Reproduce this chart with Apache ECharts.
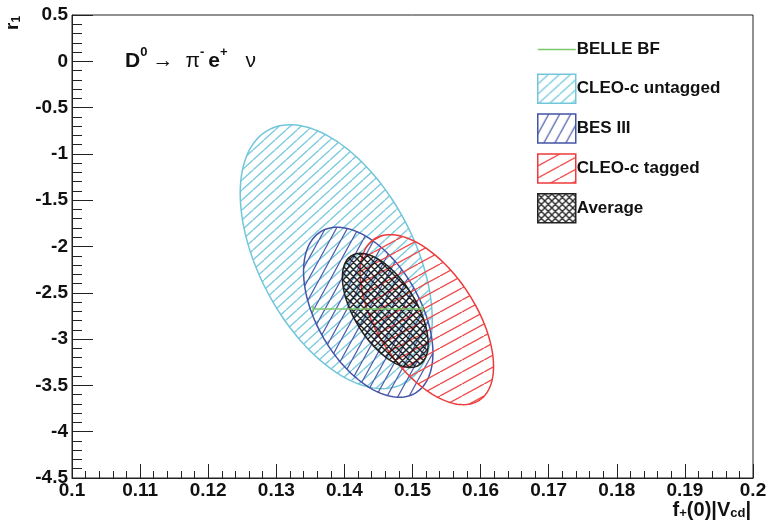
<!DOCTYPE html>
<html><head><meta charset="utf-8">
<script src="https://cdn.jsdelivr.net/npm/echarts@6/dist/echarts.min.js"></script>
<style>html,body{margin:0;padding:0;background:#fff}#c{width:772px;height:528px}</style>
</head><body><div id="c"></div>
<script>
// ---- data ----
const seriesNames = ['CLEO-c untagged', 'BES III', 'CLEO-c tagged', 'Average'];
const centerX = [0.1388, 0.1435, 0.1521, 0.1460];
const centerY = [-2.11, -2.71, -2.79, -2.69];
const halfWidthX = [0.0141, 0.0095, 0.0098, 0.0063];
const halfWidthY = [1.425, 0.918, 0.918, 0.616];
const correlation = [-0.48, -0.48, -0.55, -0.58];
const belleName = 'BELLE BF';
const belleX = [0.1354, 0.1515];
const belleY = [-2.675, -2.675];
const xTickLabels = ['0.1','0.11','0.12','0.13','0.14','0.15','0.16','0.17','0.18','0.19','0.2'];
const yTickLabels = ['-4.5','-4','-3.5','-3','-2.5','-2','-1.5','-1','-0.5','0','0.5'];

// ---- styles ----
const FONT = '"Liberation Sans", Arial, Helvetica, sans-serif';
const strokeColors = ['#72c6da', '#4454a6', '#ee3a3a', '#222222'];
const hatchColors = ['#7ccbdf', '#5060ac', '#f04a4a', '#111111'];
const hatchSpec = [
  {w: 11, h: 10, lw: 1.3},
  {w: 11, h: 20, lw: 1.3},
  {w: 22, h: 12, lw: 1.3},
  {cross: true, s: 7, lw: 1.4}
];

function makePattern(color, spec) {
  const c = document.createElement('canvas');
  const ctx = c.getContext('2d');
  if (spec.cross) {
    const s = spec.s;
    c.width = s; c.height = s;
    ctx.strokeStyle = color; ctx.lineWidth = spec.lw; ctx.globalAlpha = 0.9;
    ctx.beginPath();
    for (let i = -1; i <= 1; i++) {
      ctx.moveTo(i * s, s); ctx.lineTo(i * s + s, 0);
      ctx.moveTo(i * s, 0); ctx.lineTo(i * s + s, s);
    }
    ctx.stroke();
  } else {
    const W = spec.w, H = spec.h;
    c.width = W; c.height = H;
    ctx.strokeStyle = color; ctx.lineWidth = spec.lw;
    ctx.beginPath();
    for (let i = -1; i <= 1; i++) {
      ctx.moveTo(i * W, H); ctx.lineTo(i * W + W, 0);
    }
    ctx.stroke();
  }
  return {image: c, repeat: 'repeat'};
}
const patterns = hatchColors.map((col, i) => makePattern(col, hatchSpec[i]));

function ellipseRender(params, api) {
  const cx = api.value(0), cy = api.value(1), hx = api.value(2), hy = api.value(3), rho = api.value(4);
  const pts = [];
  const n = 160;
  const s = Math.sqrt(1 - rho * rho);
  for (let k = 0; k < n; k++) {
    const t = 2 * Math.PI * k / n;
    pts.push(api.coord([cx + hx * Math.cos(t), cy + hy * (rho * Math.cos(t) + s * Math.sin(t))]));
  }
  const i = params.seriesIndex - 1;
  return {
    type: 'polygon',
    shape: {points: pts},
    style: {fill: patterns[i], stroke: strokeColors[i], lineWidth: 1.5}
  };
}

const series = [{
  name: belleName,
  type: 'line',
  data: belleX.map((x, i) => [x, belleY[i]]),
  symbol: 'rect',
  symbolSize: [1.5, 6],
  showSymbol: true,
  lineStyle: {color: '#7dc86c', width: 1.5},
  itemStyle: {color: '#7dc86c'},
  z: 5
}];
seriesNames.forEach((name, i) => {
  series.push({
    name: name,
    type: 'custom',
    coordinateSystem: 'cartesian2d',
    renderItem: ellipseRender,
    encode: {x: 0, y: 1},
    data: [[centerX[i], centerY[i], halfWidthX[i], halfWidthY[i], correlation[i]]],
    itemStyle: {color: patterns[i], borderColor: strokeColors[i], borderWidth: 1.5},
    z: 2 + i,
    silent: true
  });
});

function lookup(labels, min, step) {
  return v => { const k = Math.round((v - min) / step); return labels[k] !== undefined ? labels[k] : ''; };
}

const lineIcon = 'path://M0,0 L0.01,0 L0,0.01 Z M38,29 L37.99,29 L38,28.99 Z M0,13.75 L38,13.75 L38,15.25 L0,15.25 Z';

const chart = echarts.init(document.getElementById('c'), null, {renderer: 'canvas'});
chart.setOption({
  animation: false,
  backgroundColor: '#fff',
  grid: {show: true, left: 72, right: 19, top: 15, bottom: 50, borderColor: '#222', borderWidth: 1,
         containLabel: false, outerBoundsMode: 'none'},
  xAxis: {
    type: 'value', min: 0.1, max: 0.2, interval: 0.01,
    axisLine: {onZero: false, lineStyle: {color: '#222', width: 1}},
    axisTick: {inside: true, length: 14, lineStyle: {color: '#222'}},
    minorTick: {show: true, splitNumber: 5, length: 7, lineStyle: {color: '#222'}},
    splitLine: {show: false}, minorSplitLine: {show: false},
    axisLabel: {formatter: lookup(xTickLabels, 0.1, 0.01), color: '#111', fontFamily: FONT, fontWeight: 'bold', fontSize: 19, margin: 3, hideOverlap: false, showMinLabel: true, showMaxLabel: true}
  },
  yAxis: {
    type: 'value', min: -4.5, max: 0.5, interval: 0.5,
    axisLine: {show: true, onZero: false, lineStyle: {color: '#222', width: 1}},
    axisTick: {show: true, inside: true, length: 21, lineStyle: {color: '#222'}},
    minorTick: {show: true, splitNumber: 5, length: 10, lineStyle: {color: '#222'}},
    splitLine: {show: false}, minorSplitLine: {show: false},
    axisLabel: {formatter: lookup(yTickLabels, -4.5, 0.5), color: '#111', fontFamily: FONT, fontWeight: 'bold', fontSize: 19, margin: 4, hideOverlap: false, showMinLabel: true, showMaxLabel: true}
  },
  legend: {
    orient: 'vertical', left: 532, top: 30,
    itemWidth: 38, itemHeight: 29, itemGap: 9.4,
    selectedMode: false,
    textStyle: {fontFamily: FONT, fontWeight: 'bold', fontSize: 17, color: '#111', padding: [0, 0, 0, -4]},
    data: [{name: belleName, icon: lineIcon, itemStyle: {color: '#7dc86c', borderWidth: 0}}].concat(seriesNames.map((n, i) => ({
      name: n, icon: 'rect',
      itemStyle: {color: patterns[i], borderColor: strokeColors[i], borderWidth: 1.5}
    })))
  },
  graphic: [
    {
      type: 'text', left: 125, top: 46, z: 10,
      style: {
        text: '{b|D}{sup|0}{ar|\u2192}{n|\u03c0}{sup|-}{e|e}{sup|+}{nu|\u03bd}',
        rich: {
          b: {fontFamily: FONT, fontWeight: 'bold', fontSize: 21, lineHeight: 26, verticalAlign: 'bottom', fill: '#111'},
          e: {fontFamily: FONT, fontWeight: 'bold', fontSize: 21, lineHeight: 26, verticalAlign: 'bottom', fill: '#111', padding: [0, 0, 0, 4]},
          ar: {fontFamily: FONT, fontSize: 21, lineHeight: 26, verticalAlign: 'bottom', fill: '#111', padding: [0, 0, 0, 5]},
          n: {fontFamily: FONT, fontSize: 21, lineHeight: 26, verticalAlign: 'bottom', fill: '#111', padding: [0, 0, 0, 12]},
          nu: {fontFamily: FONT, fontSize: 21, lineHeight: 26, verticalAlign: 'bottom', fill: '#111', padding: [0, 0, 0, 18]},
          sup: {fontFamily: FONT, fontWeight: 'bold', fontSize: 13, lineHeight: 20, verticalAlign: 'top', fill: '#111'}
        }
      }
    },
    {
      type: 'text', x: 751, y: 500, z: 10,
      style: {
        text: '{m|f}{s|+}{m|(0)|V}{s|cd}{m||}',
        align: 'right', verticalAlign: 'top',
        rich: {
          m: {fontFamily: FONT, fontWeight: 'bold', fontSize: 20, lineHeight: 20, verticalAlign: 'top', fill: '#111'},
          s: {fontFamily: FONT, fontWeight: 'bold', fontSize: 13, lineHeight: 13, verticalAlign: 'bottom', fill: '#111'}
        }
      }
    },
    {
      type: 'text', x: 3, y: 30, rotation: Math.PI / 2, z: 10,
      style: {
        text: '{m|r}{s|1}',
        align: 'left', verticalAlign: 'top',
        rich: {
          m: {fontFamily: FONT, fontWeight: 'bold', fontSize: 19, lineHeight: 20, verticalAlign: 'top', fill: '#111'},
          s: {fontFamily: FONT, fontWeight: 'bold', fontSize: 12, lineHeight: 12, verticalAlign: 'bottom', fill: '#111'}
        }
      }
    }
  ],
  series: series
});
</script>
</body></html>
